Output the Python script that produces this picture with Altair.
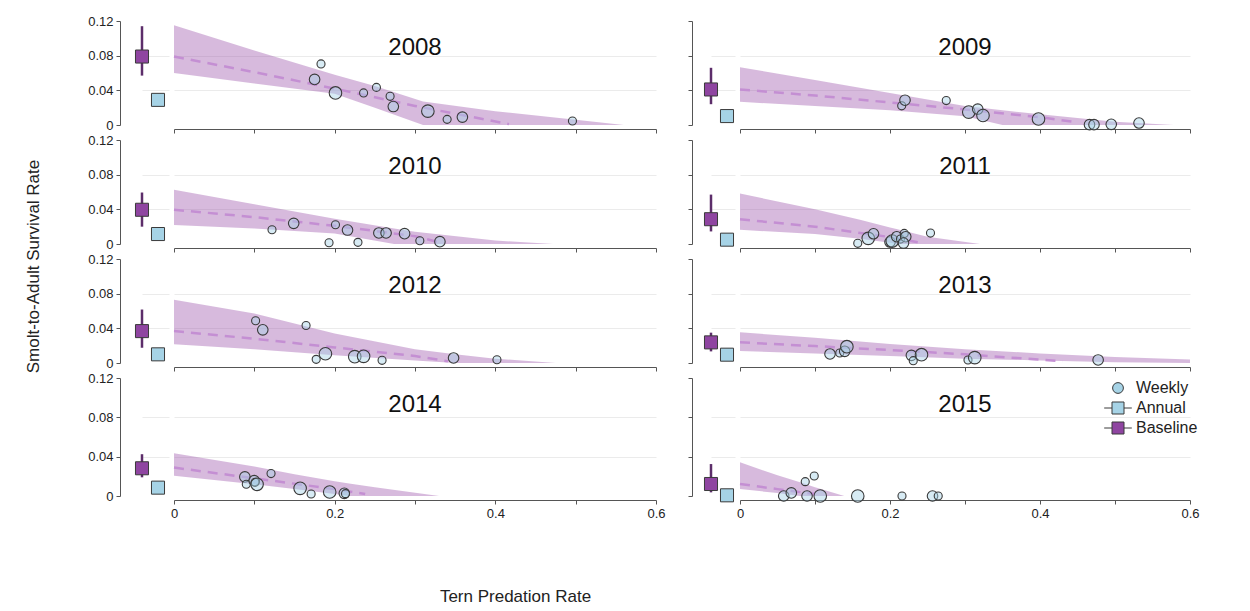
import altair as alt
import pandas as pd

YEARS = [2008, 2009, 2010, 2011, 2012, 2013, 2014, 2015]

# Baseline (median with interval) and annual survival estimates per year
BASE_MID = [0.079, 0.041, 0.0395, 0.0286, 0.0368, 0.0238, 0.0282, 0.0122]
BASE_LO = [0.057, 0.024, 0.020, 0.0145, 0.0176, 0.0134, 0.019, 0.0037]
BASE_HI = [0.114, 0.066, 0.0594, 0.057, 0.0617, 0.035, 0.0425, 0.0325]
ANNUAL = [0.029, 0.0103, 0.0115, 0.005, 0.010, 0.0096, 0.0085, 0.0007]

# Weekly estimates: predation rate (x), survival (y), relative size (1-3)
WX_2008 = [0.175, 0.183, 0.201, 0.236, 0.252, 0.269, 0.273, 0.316, 0.340, 0.359, 0.496]
WY_2008 = [0.0526, 0.0705, 0.0370, 0.0370, 0.0434, 0.0331, 0.0213, 0.0160, 0.0065, 0.0091, 0.0046]
WS_2008 = [2, 1, 3, 1, 1, 1, 2, 3, 1, 2, 1]

WX_2009 = [0.2156, 0.220, 0.275, 0.305, 0.317, 0.324, 0.398, 0.466, 0.472, 0.495, 0.532]
WY_2009 = [0.0221, 0.0286, 0.0282, 0.0149, 0.0183, 0.0110, 0.0069, 0.0004, 0.0004, 0.0008, 0.0023]
WS_2009 = [1, 2, 1, 3, 2, 3, 3, 2, 2, 2, 2]

WX_2010 = [0.122, 0.149, 0.193, 0.201, 0.216, 0.229, 0.255, 0.264, 0.287, 0.306, 0.331]
WY_2010 = [0.0165, 0.0238, 0.0015, 0.0222, 0.0161, 0.0019, 0.0127, 0.0127, 0.0119, 0.0038, 0.0027]
WS_2010 = [1, 2, 1, 1, 2, 1, 2, 2, 2, 1, 2]

WX_2011 = [0.157, 0.171, 0.178, 0.200, 0.203, 0.209, 0.214, 0.219, 0.221, 0.218, 0.254]
WY_2011 = [0.0008, 0.0065, 0.0118, 0.0023, 0.0034, 0.0084, 0.0057, 0.0122, 0.0084, 0.0011, 0.0126]
WS_2011 = [1, 3, 2, 2, 3, 2, 1, 1, 2, 2, 1]

WX_2012 = [0.1016, 0.1105, 0.1644, 0.177, 0.1885, 0.225, 0.236, 0.259, 0.348, 0.402]
WY_2012 = [0.0487, 0.0383, 0.0433, 0.0042, 0.0107, 0.0073, 0.0077, 0.0031, 0.0058, 0.0038]
WS_2012 = [1, 2, 1, 1, 3, 3, 3, 1, 2, 1]

WX_2013 = [0.120, 0.133, 0.1396, 0.1425, 0.2285, 0.231, 0.242, 0.304, 0.313, 0.4775]
WY_2013 = [0.0104, 0.0115, 0.0135, 0.0188, 0.0088, 0.0027, 0.0096, 0.0035, 0.0062, 0.0035]
WS_2013 = [2, 1, 2, 3, 2, 1, 3, 1, 3, 2]

WX_2014 = [0.0882, 0.090, 0.0998, 0.101, 0.1034, 0.1208, 0.157, 0.1707, 0.1938, 0.212, 0.2135]
WY_2014 = [0.0194, 0.0119, 0.0156, 0.0139, 0.0119, 0.0228, 0.0078, 0.0020, 0.0041, 0.0027, 0.0024]
WS_2014 = [2, 1, 2, 1, 3, 1, 3, 1, 3, 2, 1]

WX_2015 = [0.0583, 0.0684, 0.087, 0.099, 0.0894, 0.107, 0.157, 0.216, 0.2567, 0.2643]
WY_2015 = [0.0, 0.0031, 0.0146, 0.0203, 0.0, 0.0, 0.0, 0.0, 0.0, 0.0]
WS_2015 = [2, 2, 1, 1, 2, 3, 3, 1, 2, 1]

# Credible band (lower / upper) of the fitted relationship
BX_2008 = [0, 0.1, 0.2, 0.25, 0.31, 0.4, 0.5, 0.56]
BL_2008 = [0.060, 0.048, 0.036, 0.020, 0.0, 0.0, 0.0, 0.0]
BH_2008 = [0.115, 0.086, 0.058, 0.045, 0.027, 0.016, 0.006, 0.0]

BX_2009 = [0, 0.1, 0.2, 0.3, 0.35, 0.4, 0.5, 0.578]
BL_2009 = [0.0267, 0.022, 0.017, 0.010, 0.0, 0.0, 0.0, 0.0]
BH_2009 = [0.0667, 0.052, 0.037, 0.022, 0.017, 0.0125, 0.0038, 0.0]

BX_2010 = [0, 0.1, 0.2, 0.274, 0.3, 0.4, 0.472]
BL_2010 = [0.022, 0.018, 0.012, 0.0, 0.0, 0.0, 0.0]
BH_2010 = [0.0625, 0.046, 0.029, 0.018, 0.014, 0.004, 0.0]

BX_2011 = [0, 0.1, 0.16, 0.2, 0.21, 0.25, 0.32]
BL_2011 = [0.0164, 0.0115, 0.006, 0.0015, 0.0, 0.0, 0.0]
BH_2011 = [0.0583, 0.040, 0.028, 0.019, 0.017, 0.0084, 0.0]

BX_2012 = [0, 0.1, 0.2, 0.3, 0.35, 0.4, 0.475]
BL_2012 = [0.0215, 0.016, 0.009, 0.003, 0.0, 0.0, 0.0]
BH_2012 = [0.073, 0.057, 0.034, 0.016, 0.010, 0.005, 0.0]

BX_2013 = [0, 0.1, 0.2, 0.3, 0.4, 0.5, 0.6]
BL_2013 = [0.0138, 0.011, 0.008, 0.005, 0.003, 0.001, 0.0]
BH_2013 = [0.0354, 0.029, 0.022, 0.016, 0.011, 0.007, 0.004]

BX_2014 = [0, 0.1, 0.15, 0.2, 0.22, 0.25, 0.33]
BL_2014 = [0.0207, 0.012, 0.007, 0.002, 0.0, 0.0, 0.0]
BH_2014 = [0.0435, 0.030, 0.022, 0.015, 0.0125, 0.009, 0.0]

BX_2015 = [0, 0.05, 0.08, 0.1, 0.139]
BL_2015 = [0.0071, 0.003, 0.0, 0.0, 0.0]
BH_2015 = [0.0342, 0.021, 0.014, 0.009, 0.0]

# Median fitted line (dashed)
MX_2008 = [0, 0.1, 0.2, 0.3, 0.417]
MY_2008 = [0.079, 0.061, 0.042, 0.022, 0.001]
MX_2009 = [0, 0.1, 0.2, 0.3, 0.4, 0.45]
MY_2009 = [0.041, 0.034, 0.026, 0.018, 0.009, 0.003]
MX_2010 = [0, 0.1, 0.2, 0.3, 0.33]
MY_2010 = [0.0395, 0.031, 0.021, 0.009, 0.002]
MX_2011 = [0, 0.1, 0.2, 0.237]
MY_2011 = [0.0286, 0.020, 0.008, 0.002]
MX_2012 = [0, 0.1, 0.2, 0.3, 0.341]
MY_2012 = [0.0368, 0.028, 0.018, 0.008, 0.002]
MX_2013 = [0, 0.1, 0.2, 0.3, 0.43]
MY_2013 = [0.0238, 0.0195, 0.015, 0.010, 0.002]
MX_2014 = [0, 0.1, 0.2, 0.238]
MY_2014 = [0.0289, 0.018, 0.007, 0.002]
MX_2015 = [0, 0.05, 0.1]
MY_2015 = [0.0122, 0.007, 0.002]

KINDS = ["Weekly", "Annual", "Baseline"]

G = globals()

FONT = "Liberation Sans"
AX = "#555555"
GRID = "#ebebeb"
EDGE = "#3a3a3a"
PURPLE = "#8f45a1"
ERR = "#5c2d6a"
LBLUE = "#a6d3e6"
BAND = "#a05aaf"
DASH = "#c48fd3"

CIRCLE_PATH = "M0.9,0A0.9,0.9,0,1,1,-0.9,0A0.9,0.9,0,1,1,0.9,0Z"
SQUARE_LINE_PATH = "M-2.3,0H-1M1,0H2.3M-1,-1H1V1H-1Z"

legend = alt.Legend(
    title=None, orient="none", legendX=968, legendY=359,
    symbolSize=144, symbolStrokeColor=EDGE, symbolStrokeWidth=1,
    symbolOpacity=1, labelFontSize=16, labelColor="#222222", labelFont=FONT,
    labelOffset=10, rowPadding=4,
)
color_enc = alt.Color("kind:N", scale=alt.Scale(domain=KINDS, range=[LBLUE, LBLUE, PURPLE]), legend=legend)
shape_enc = alt.Shape("kind:N", scale=alt.Scale(domain=KINDS, range=[CIRCLE_PATH, SQUARE_LINE_PATH, SQUARE_LINE_PATH]), legend=legend)
stroke_enc = alt.Stroke("kind:N", scale=alt.Scale(domain=KINDS, range=[EDGE, EDGE, EDGE]), legend=legend)
size_enc = alt.Size("w:Q", scale=alt.Scale(domain=[1, 3], range=[80, 195]), legend=None)

YSCALE = alt.Scale(domain=[0, 0.12], nice=False, zero=False)
XSCALE = alt.Scale(domain=[0, 0.6], nice=False, zero=False)

NARROW_W = [27, 24]
MAIN_W = [482, 450]
SPACER_W = 45


def narrow_chart(i, row, col):
    h = 118 if row == 3 else 104
    nw = NARROW_W[col]
    pad = (nw / 16.0 - 1) / 2.0
    if row == 1 and col == 0:
        ytitle = dict(title="Smolt-to-Adult Survival Rate", titleX=-87, titleY=126, titleAngle=270,
                      titleAlign="center", titleBaseline="middle", titleFontSize=17,
                      titleFontWeight="normal", titleColor="#222222", titleFont=FONT)
    else:
        ytitle = dict(title=None)
    ny_axis = alt.Axis(
        values=[0, 0.04, 0.08, 0.12], labels=(col == 0),
        labelExpr="datum.value == 0 ? '0' : format(datum.value, '.2f')",
        offset=(22 if col == 0 else 19), tickSize=4, tickColor=AX, domainColor=AX,
        labelFontSize=13, labelColor="#222222", labelPadding=3,
        grid=True, gridColor=GRID,
        gridOpacity={"condition": {"test": "datum.value > 0.01 && datum.value < 0.11", "value": 1}, "value": 0},
        **ytitle,
    )
    nx = alt.X("kind:N", scale=alt.Scale(type="point", domain=["Baseline", "Annual"], padding=pad, align=0), axis=None)

    base_df = pd.DataFrame({"kind": ["Baseline"], "mid": [BASE_MID[i]], "lo": [BASE_LO[i]], "hi": [BASE_HI[i]]})
    ann_df = pd.DataFrame({"kind": ["Annual"], "mid": [ANNUAL[i]]})

    err = alt.Chart(base_df).mark_rule(color=ERR, strokeWidth=2.5).encode(
        x=nx, y=alt.Y("lo:Q", scale=YSCALE, axis=ny_axis), y2="hi:Q")
    bsq = alt.Chart(base_df).mark_square(size=170, fill=PURPLE, stroke=EDGE, strokeWidth=1, opacity=1).encode(
        x=nx, y=alt.Y("mid:Q", scale=YSCALE, axis=ny_axis))
    asq = alt.Chart(ann_df).mark_square(size=170, fill=LBLUE, stroke=EDGE, strokeWidth=1, opacity=1).encode(
        x=nx, y=alt.Y("mid:Q", scale=YSCALE, axis=ny_axis))
    return alt.layer(err, bsq, asq).properties(width=nw, height=h)


def main_chart(i, row, col):
    year = YEARS[i]
    h = 118 if row == 3 else 104
    if row == 3 and col == 0:
        axis_title = dict(title="Tern Predation Rate", titleX=341, titleY=88, titleFontSize=17,
                          titleFontWeight="normal", titleColor="#222222", titleFont=FONT,
                          titleAlign="center", titleBaseline="top")
    else:
        axis_title = dict(title=None)
    mx_axis = alt.Axis(
        values=[0, 0.1, 0.2, 0.3, 0.4, 0.5, 0.6], labels=(row == 3),
        labelExpr="round(datum.value * 10) % 2 == 0 ? format(datum.value, '~g') : ''",
        labelFlush=False, labelOverlap=False, offset=4, tickSize=4,
        tickColor=AX, domainColor=AX, labelFontSize=13, labelColor="#222222",
        labelPadding=3, grid=False, **axis_title,
    )
    my_axis = alt.Axis(values=[0.04, 0.08], grid=True, gridColor=GRID, domain=False,
                       ticks=False, labels=False, title=None)
    mx = alt.X("x:Q", scale=XSCALE, axis=mx_axis)

    band_df = pd.DataFrame({"x": G[f"BX_{year}"], "lo": G[f"BL_{year}"], "hi": G[f"BH_{year}"]})
    med_df = pd.DataFrame({"x": G[f"MX_{year}"], "y": G[f"MY_{year}"]})
    wk_df = pd.DataFrame({"x": G[f"WX_{year}"], "y": G[f"WY_{year}"], "w": G[f"WS_{year}"]})
    wk_df["kind"] = "Weekly"

    band = alt.Chart(band_df).mark_area(color=BAND, opacity=0.42).encode(
        x=mx, y=alt.Y("lo:Q", scale=YSCALE, axis=my_axis), y2="hi:Q")
    med = alt.Chart(med_df).mark_line(color=DASH, strokeWidth=2.5, strokeDash=[10, 7]).encode(
        x=mx, y=alt.Y("y:Q", scale=YSCALE, axis=my_axis))
    pts = alt.Chart(wk_df).mark_point(filled=True, fillOpacity=0.45, strokeWidth=1.1, opacity=1).encode(
        x=mx, y=alt.Y("y:Q", scale=YSCALE, axis=my_axis), color=color_enc, shape=shape_enc,
        stroke=stroke_enc, size=size_enc)

    return alt.layer(band, med, pts).properties(
        width=MAIN_W[col], height=h,
        title=alt.Title(str(year), fontSize=24, fontWeight="normal", font=FONT, color="#111111",
                        anchor="middle", baseline="alphabetic", offset=-58),
    )


def spacer(row):
    h = 118 if row == 3 else 104
    return alt.Chart(pd.DataFrame({"k": [0]})).mark_point(opacity=0).properties(width=SPACER_W, height=h)


cells = []
for r in range(4):
    cells += [
        narrow_chart(2 * r, r, 0), main_chart(2 * r, r, 0), spacer(r),
        narrow_chart(2 * r + 1, r, 1), main_chart(2 * r + 1, r, 1),
    ]

chart = alt.concat(*cells, columns=5, spacing={"row": 15, "column": 5}, bounds="flush", align="each").properties(
    padding={"left": 16, "top": 7, "right": 5, "bottom": 0},
).configure(font=FONT).configure_view(stroke=None).configure_axis(labelFont=FONT)

chart.save("out.html", embed_options={"renderer": "svg", "actions": False})
